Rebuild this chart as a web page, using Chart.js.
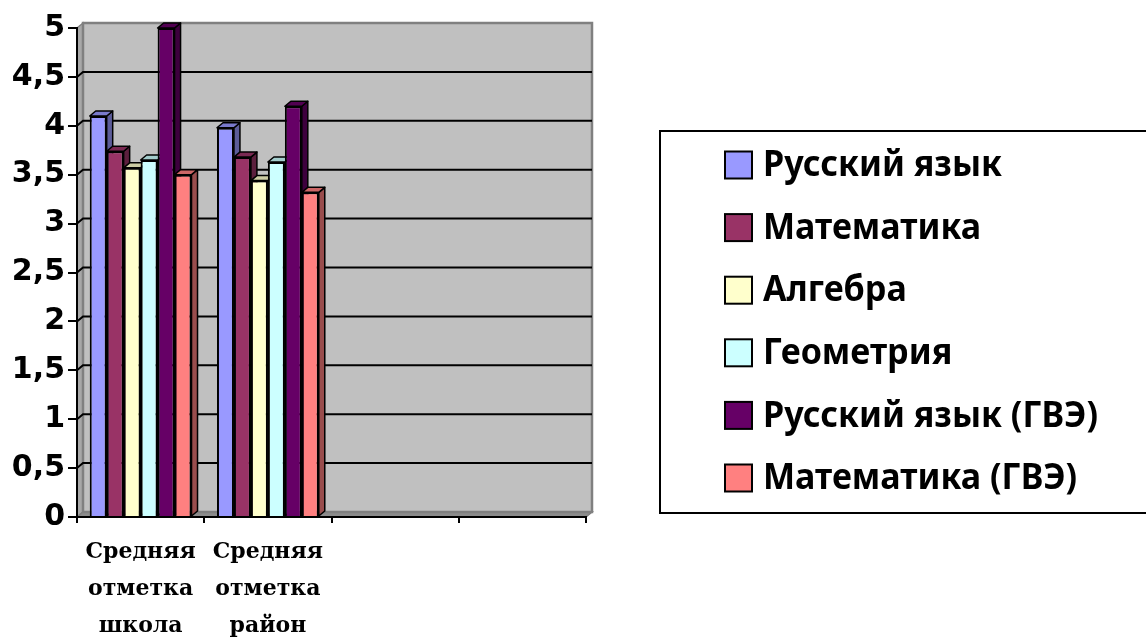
<!DOCTYPE html>
<html>
<head>
<meta charset="utf-8">
<script src="https://cdn.jsdelivr.net/npm/chart.js@4/dist/chart.umd.min.js"></script>
<style>
  html, body { margin: 0; padding: 0; background: #fff; }
  #wrap { width: 1146px; height: 637px; }
</style>
</head>
<body>
<div id="wrap"><canvas id="marks_chart" width="1146" height="637"></canvas></div>
<script>
// categories (two empty slots on the right, as in the original sheet)
var categories = [["Средняя", "отметка", "школа"], ["Средняя", "отметка", "район"], "", ""];
var seriesNames = ["Русский язык", "Математика", "Алгебра", "Геометрия", "Русский язык (ГВЭ)", "Математика (ГВЭ)"];
var russian = [4.1, 3.98, null, null];
var maths = [3.74, 3.68, null, null];
var algebra = [3.57, 3.44, null, null];
var geometry = [3.65, 3.63, null, null];
var russianGve = [5, 4.2, null, null];
var mathsGve = [3.5, 3.32, null, null];
var yTicks = [0, 0.5, 1, 1.5, 2, 2.5, 3, 3.5, 4, 4.5, 5];

var colors = ["#9999FF", "#993366", "#FFFFCC", "#CCFFFF", "#660066", "#FF8080"];
var sideColors = ["#5c5c99", "#5c1f3d", "#99997a", "#7a9999", "#3d003d", "#994d4d"];
var topColors = ["#7a7acc", "#7a2952", "#cccca3", "#a3cccc", "#520052", "#cc6666"];

var DX = 6, DY = 5; // fake 3d depth

// back wall, side wall, floor and gridlines
var wallPlugin = {
    id: "wall",
    beforeDraw: function(chart) {
        var ctx = chart.ctx, a = chart.chartArea, y = chart.scales.y;
        ctx.save();
        // left wall
        ctx.fillStyle = "#a8a8a8";
        ctx.strokeStyle = "#808080";
        ctx.lineWidth = 1.5;
        ctx.beginPath();
        ctx.moveTo(a.left, a.top); ctx.lineTo(a.left + DX, a.top - DY);
        ctx.lineTo(a.left + DX, a.bottom - DY); ctx.lineTo(a.left, a.bottom);
        ctx.closePath(); ctx.fill(); ctx.stroke();
        // floor
        ctx.fillStyle = "#8c8c8c";
        ctx.beginPath();
        ctx.moveTo(a.left, a.bottom); ctx.lineTo(a.left + DX, a.bottom - DY);
        ctx.lineTo(a.right + DX, a.bottom - DY); ctx.lineTo(a.right, a.bottom);
        ctx.closePath(); ctx.fill(); ctx.stroke();
        // back wall
        ctx.fillStyle = "#c0c0c0";
        ctx.fillRect(a.left + DX, a.top - DY, a.right - a.left, a.bottom - a.top);
        ctx.lineWidth = 2.5;
        ctx.strokeRect(a.left + DX, a.top - DY, a.right - a.left, a.bottom - a.top);
        // gridlines
        ctx.strokeStyle = "#000";
        ctx.lineWidth = 2;
        yTicks.forEach(function(v) {
            if (v === 0 || v === 5) return;
            var py = y.getPixelForValue(v);
            ctx.beginPath();
            ctx.moveTo(a.left, py);
            ctx.lineTo(a.left + DX, py - DY);
            ctx.lineTo(a.right + DX, py - DY);
            ctx.stroke();
        });
        ctx.restore();
    },
    beforeDatasetsDraw: function(chart) {
        var ctx = chart.ctx;
        ctx.save();
        ctx.strokeStyle = "#000";
        ctx.lineWidth = 1.5;
        ctx.lineJoin = "round";
        chart.data.datasets.forEach(function(ds, i) {
            var meta = chart.getDatasetMeta(i);
            meta.data.forEach(function(bar, j) {
                if (ds.data[j] == null) return;
                var p = bar.getProps(["x", "y", "base", "width"], true);
                var l = p.x - p.width / 2, r = p.x + p.width / 2;
                // side
                ctx.fillStyle = sideColors[i];
                ctx.beginPath();
                ctx.moveTo(r, p.y); ctx.lineTo(r + DX, p.y - DY);
                ctx.lineTo(r + DX, p.base - DY); ctx.lineTo(r, p.base);
                ctx.closePath(); ctx.fill(); ctx.stroke();
                // top
                ctx.fillStyle = topColors[i];
                ctx.beginPath();
                ctx.moveTo(l, p.y); ctx.lineTo(l + DX, p.y - DY);
                ctx.lineTo(r + DX, p.y - DY); ctx.lineTo(r, p.y);
                ctx.closePath(); ctx.fill(); ctx.stroke();
            });
        });
        ctx.restore();
    }
};

// boxed legend on the right (the source picture is stretched sideways, so the text is too)
var legendPlugin = {
    id: "boxLegend",
    afterDraw: function(chart) {
        var ctx = chart.ctx;
        var box = { left: 660, top: 131, right: 1150, bottom: 513 };
        ctx.save();
        ctx.strokeStyle = "#000";
        ctx.lineWidth = 2;
        ctx.strokeRect(box.left, box.top, box.right - box.left, box.bottom - box.top);
        ctx.font = "bold 36px 'Noto Sans', 'Open Sans', sans-serif";
        ctx.textBaseline = "middle";
        var widest = 0;
        seriesNames.forEach(function(s) { widest = Math.max(widest, ctx.measureText(s).width); });
        var sx = 335 / widest;
        chart.data.datasets.forEach(function(ds, i) {
            var cy = 165 + i * 62.6;
            ctx.fillStyle = colors[i];
            ctx.fillRect(725, cy - 13.5, 27, 27);
            ctx.lineWidth = 2;
            ctx.strokeRect(725, cy - 13.5, 27, 27);
            ctx.fillStyle = "#000";
            ctx.save();
            ctx.translate(763, cy + 1);
            ctx.scale(sx, 1);
            ctx.fillText(ds.label, 0, 0);
            ctx.restore();
        });
        ctx.restore();
    }
};

var values = [russian, maths, algebra, geometry, russianGve, mathsGve];
var datasets = values.map(function(vals, i) {
    return {
        label: seriesNames[i],
        data: vals,
        backgroundColor: colors[i],
        borderColor: "#000",
        borderWidth: 2,
        categoryPercentage: 0.8,
        barPercentage: 1.0
    };
});

var ctx = document.getElementById("marks_chart");
var chart = new Chart(ctx, {
    type: "bar",
    data: { labels: categories, datasets: datasets },
    options: {
        responsive: false,
        animation: false,
        layout: { padding: { top: 28, right: 560, bottom: 0, left: 0 } },
        plugins: { legend: { display: false }, tooltip: { enabled: false } },
        scales: {
            x: {
                grid: { offset: true, drawOnChartArea: false, tickLength: 6, color: "#000", lineWidth: 2 },
                border: { display: true, color: "#000", width: 2 },
                ticks: {
                    color: "#000",
                    padding: 11,
                    maxRotation: 0,
                    autoSkip: false,
                    font: { family: "'DejaVu Serif', 'Liberation Serif', serif", size: 22, weight: "bold", lineHeight: 1.68 }
                },
                afterFit: function(s) { s.height = 120; }
            },
            y: {
                min: 0,
                max: 5,
                grid: { drawOnChartArea: false, tickLength: 9, color: "#000", lineWidth: 2 },
                border: { display: true, color: "#000", width: 2 },
                ticks: {
                    stepSize: 0.5,
                    color: "#000",
                    padding: 3,
                    font: { family: "'DejaVu Sans', sans-serif", size: 30, weight: "bold" },
                    callback: function(v) { return String(v).replace(".", ","); }
                },
                afterFit: function(s) { s.width = 77; }
            }
        }
    },
    plugins: [wallPlugin, legendPlugin]
});
</script>
</body>
</html>
